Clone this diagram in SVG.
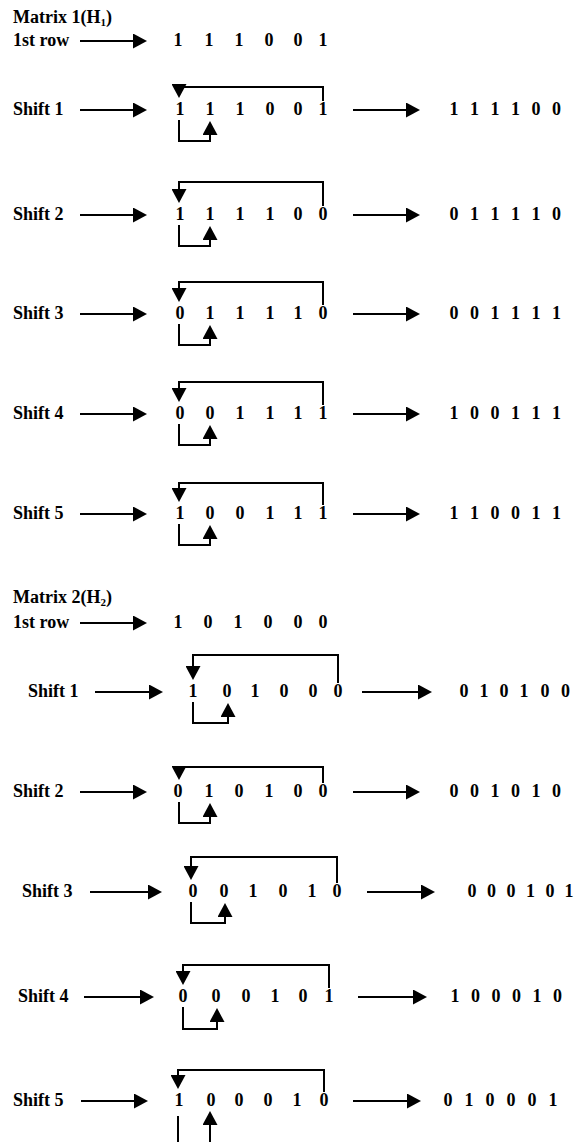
<svg xmlns="http://www.w3.org/2000/svg" width="574" height="1142" viewBox="0 0 574 1142">
  <defs>
    <style>
      text { font-family: "Liberation Serif", "Times New Roman", serif; font-size: 18px; font-weight: bold; fill: #000; }
      .bits, .out { text-anchor: middle; }
      .sub { font-size: 11px; }
      .arrow { fill: none; stroke: #000; stroke-width: 2; marker-end: url(#head); }
      .wire { fill: none; stroke: #000; stroke-width: 2; }
    </style>
    <!-- solid triangular head; tip sits 6px past the path end -->
    <marker id="head" viewBox="0 0 14 15" refX="8" refY="7.5" markerWidth="14" markerHeight="15" markerUnits="userSpaceOnUse" orient="auto">
      <path d="M0,0 L14,7.5 L0,15 Z" fill="#000"/>
    </marker>
  </defs>
  <rect width="574" height="1142" fill="#fff"/>

  <!-- ===== Matrix 1 ===== -->
  <g id="m1-title"><text x="13" y="23">Matrix 1(H<tspan class="sub" dy="3">1</tspan><tspan dy="-3">)</tspan></text></g>

  <g id="m1-first-row">
    <text x="13" y="46">1st row</text>
    <text class="bits" x="178 193 209 224 239 254 269 283 298 310 323" y="46">1 1 1 0 0 1</text>
  </g>

  <g id="m1-shift1">
    <text x="13" y="115">Shift 1</text>
    <text class="bits" x="180 195 210 225 240 255 270 284 298 310 323" y="115">1 1 1 0 0 1</text>
    <text class="out" x="454 464 474.5 485 495 505 515.5 526 536 546 556.5" y="115">1 1 1 1 0 0</text>
  </g>
  <g id="m1-shift2">
    <text x="13" y="220">Shift 2</text>
    <text class="bits" x="180 195 210 225 240 255 270 284 298 310 323" y="220">1 1 1 1 0 0</text>
    <text class="out" x="454 464 474.5 485 495 505 515.5 526 536 546 556.5" y="220">0 1 1 1 1 0</text>
  </g>
  <g id="m1-shift3">
    <text x="13" y="319">Shift 3</text>
    <text class="bits" x="180 195 210 225 240 255 270 284 298 310 323" y="319">0 1 1 1 1 0</text>
    <text class="out" x="454 464 474.5 485 495 505 515.5 526 536 546 556.5" y="319">0 0 1 1 1 1</text>
  </g>
  <g id="m1-shift4">
    <text x="13" y="419">Shift 4</text>
    <text class="bits" x="180 195 210 225 240 255 270 284 298 310 323" y="419">0 0 1 1 1 1</text>
    <text class="out" x="454 464 474.5 485 495 505 515.5 526 536 546 556.5" y="419">1 0 0 1 1 1</text>
  </g>
  <g id="m1-shift5">
    <text x="13" y="519">Shift 5</text>
    <text class="bits" x="180 195 210 225 240 255 270 284 298 310 323" y="519">1 0 0 1 1 1</text>
    <text class="out" x="454 464 474.5 485 495 505 515.5 526 536 546 556.5" y="519">1 1 0 0 1 1</text>
  </g>

  <!-- ===== Matrix 2 ===== -->
  <g id="m2-title"><text x="13" y="603">Matrix 2(H<tspan class="sub" dy="3">2</tspan><tspan dy="-3">)</tspan></text></g>

  <g id="m2-first-row">
    <text x="13" y="628">1st row</text>
    <text class="bits" x="178 193 208 223 238 253 268 283 298 310 323" y="628">1 0 1 0 0 0</text>
  </g>

  <g id="m2-shift1">
    <text x="28" y="697">Shift 1</text>
    <text class="bits" x="193 210 227 241 255 269 284 298 313 325 338" y="697">1 0 1 0 0 0</text>
    <text class="out" x="464 474 484 494 504 514 524 535 545 555 565.5" y="697">0 1 0 1 0 0</text>
  </g>
  <g id="m2-shift2">
    <text x="13" y="797">Shift 2</text>
    <text class="bits" x="178 193 209 224 239 254 269 283 298 310 323" y="797">0 1 0 1 0 0</text>
    <text class="out" x="454 464 474.5 485 495 505 515.5 526 536 546 556.5" y="797">0 0 1 0 1 0</text>
  </g>
  <g id="m2-shift3">
    <text x="22" y="897">Shift 3</text>
    <text class="bits" x="193 208 224 238 253 268 283 297 312 324 337" y="897">0 0 1 0 1 0</text>
    <text class="out" x="472 482 491.5 501 511 521 530.5 540 550 560 569" y="897">0 0 0 1 0 1</text>
  </g>
  <g id="m2-shift4">
    <text x="18" y="1002">Shift 4</text>
    <text class="bits" x="183 200 216 231 246 260 275 289 303 316 329" y="1002">0 0 0 1 0 1</text>
    <text class="out" x="455 465 475.5 486 496 506 516.5 527 537 547 557.5" y="1002">1 0 0 0 1 0</text>
  </g>
  <g id="m2-shift5">
    <text x="13" y="1106">Shift 5</text>
    <text class="bits" x="179 195 211 225 239 253 268 282 297 310 324" y="1106">1 0 0 0 1 0</text>
    <text class="out" x="448 458 469 480 490 500 511 522 532 542 553" y="1106">0 1 0 0 0 1</text>
  </g>

  <!-- ===== connectors ===== -->
  <g id="connectors">
    <!-- Matrix 1 -->
    <path class="arrow" d="M80,41 H141"/>

    <path class="arrow" d="M80,110 H141"/>
    <path class="arrow" d="M323,101 V87 H179 V92"/>
    <path class="arrow" d="M179,120 V141 H210 V127"/>
    <path class="arrow" d="M353,110 H414"/>

    <path class="arrow" d="M80,215 H141"/>
    <path class="arrow" d="M323,206 V182 H179 V197"/>
    <path class="arrow" d="M179,225 V246 H210 V232"/>
    <path class="arrow" d="M353,215 H414"/>

    <path class="arrow" d="M80,314 H141"/>
    <path class="arrow" d="M323,305 V282 H179 V296"/>
    <path class="arrow" d="M179,324 V345 H210 V331"/>
    <path class="arrow" d="M353,314 H414"/>

    <path class="arrow" d="M80,414 H141"/>
    <path class="arrow" d="M323,405 V382 H179 V396"/>
    <path class="arrow" d="M179,424 V445 H210 V431"/>
    <path class="arrow" d="M353,414 H414"/>

    <path class="arrow" d="M80,514 H141"/>
    <path class="arrow" d="M323,505 V483 H179 V496"/>
    <path class="arrow" d="M179,524 V545 H210 V531"/>
    <path class="arrow" d="M353,514 H414"/>

    <!-- Matrix 2 -->
    <path class="arrow" d="M80,623 H141"/>

    <path class="arrow" d="M95,692 H157"/>
    <path class="arrow" d="M338,683 V655 H193 V674"/>
    <path class="arrow" d="M193,702 V723 H228 V709"/>
    <path class="arrow" d="M362,692 H426"/>

    <path class="arrow" d="M80,792 H141"/>
    <path class="arrow" d="M323,783 V767 H179 V774"/>
    <path class="arrow" d="M179,802 V823 H210 V809"/>
    <path class="arrow" d="M353,792 H414"/>

    <path class="arrow" d="M90,892 H156"/>
    <path class="arrow" d="M337,883 V857 H191 V874"/>
    <path class="arrow" d="M191,902 V923 H225 V909"/>
    <path class="arrow" d="M367,892 H429"/>

    <path class="arrow" d="M84,997 H148"/>
    <path class="arrow" d="M329,988 V965 H183 V979"/>
    <path class="arrow" d="M183,1007 V1029 H217 V1014"/>
    <path class="arrow" d="M358,997 H421"/>

    <path class="arrow" d="M81,1101 H142"/>
    <path class="arrow" d="M324,1092 V1070 H178 V1083"/>
    <path class="wire" d="M178,1116 V1142"/>
    <path class="arrow" d="M210,1142 V1117"/>
    <path class="arrow" d="M353,1101 H415"/>
  </g>
</svg>
